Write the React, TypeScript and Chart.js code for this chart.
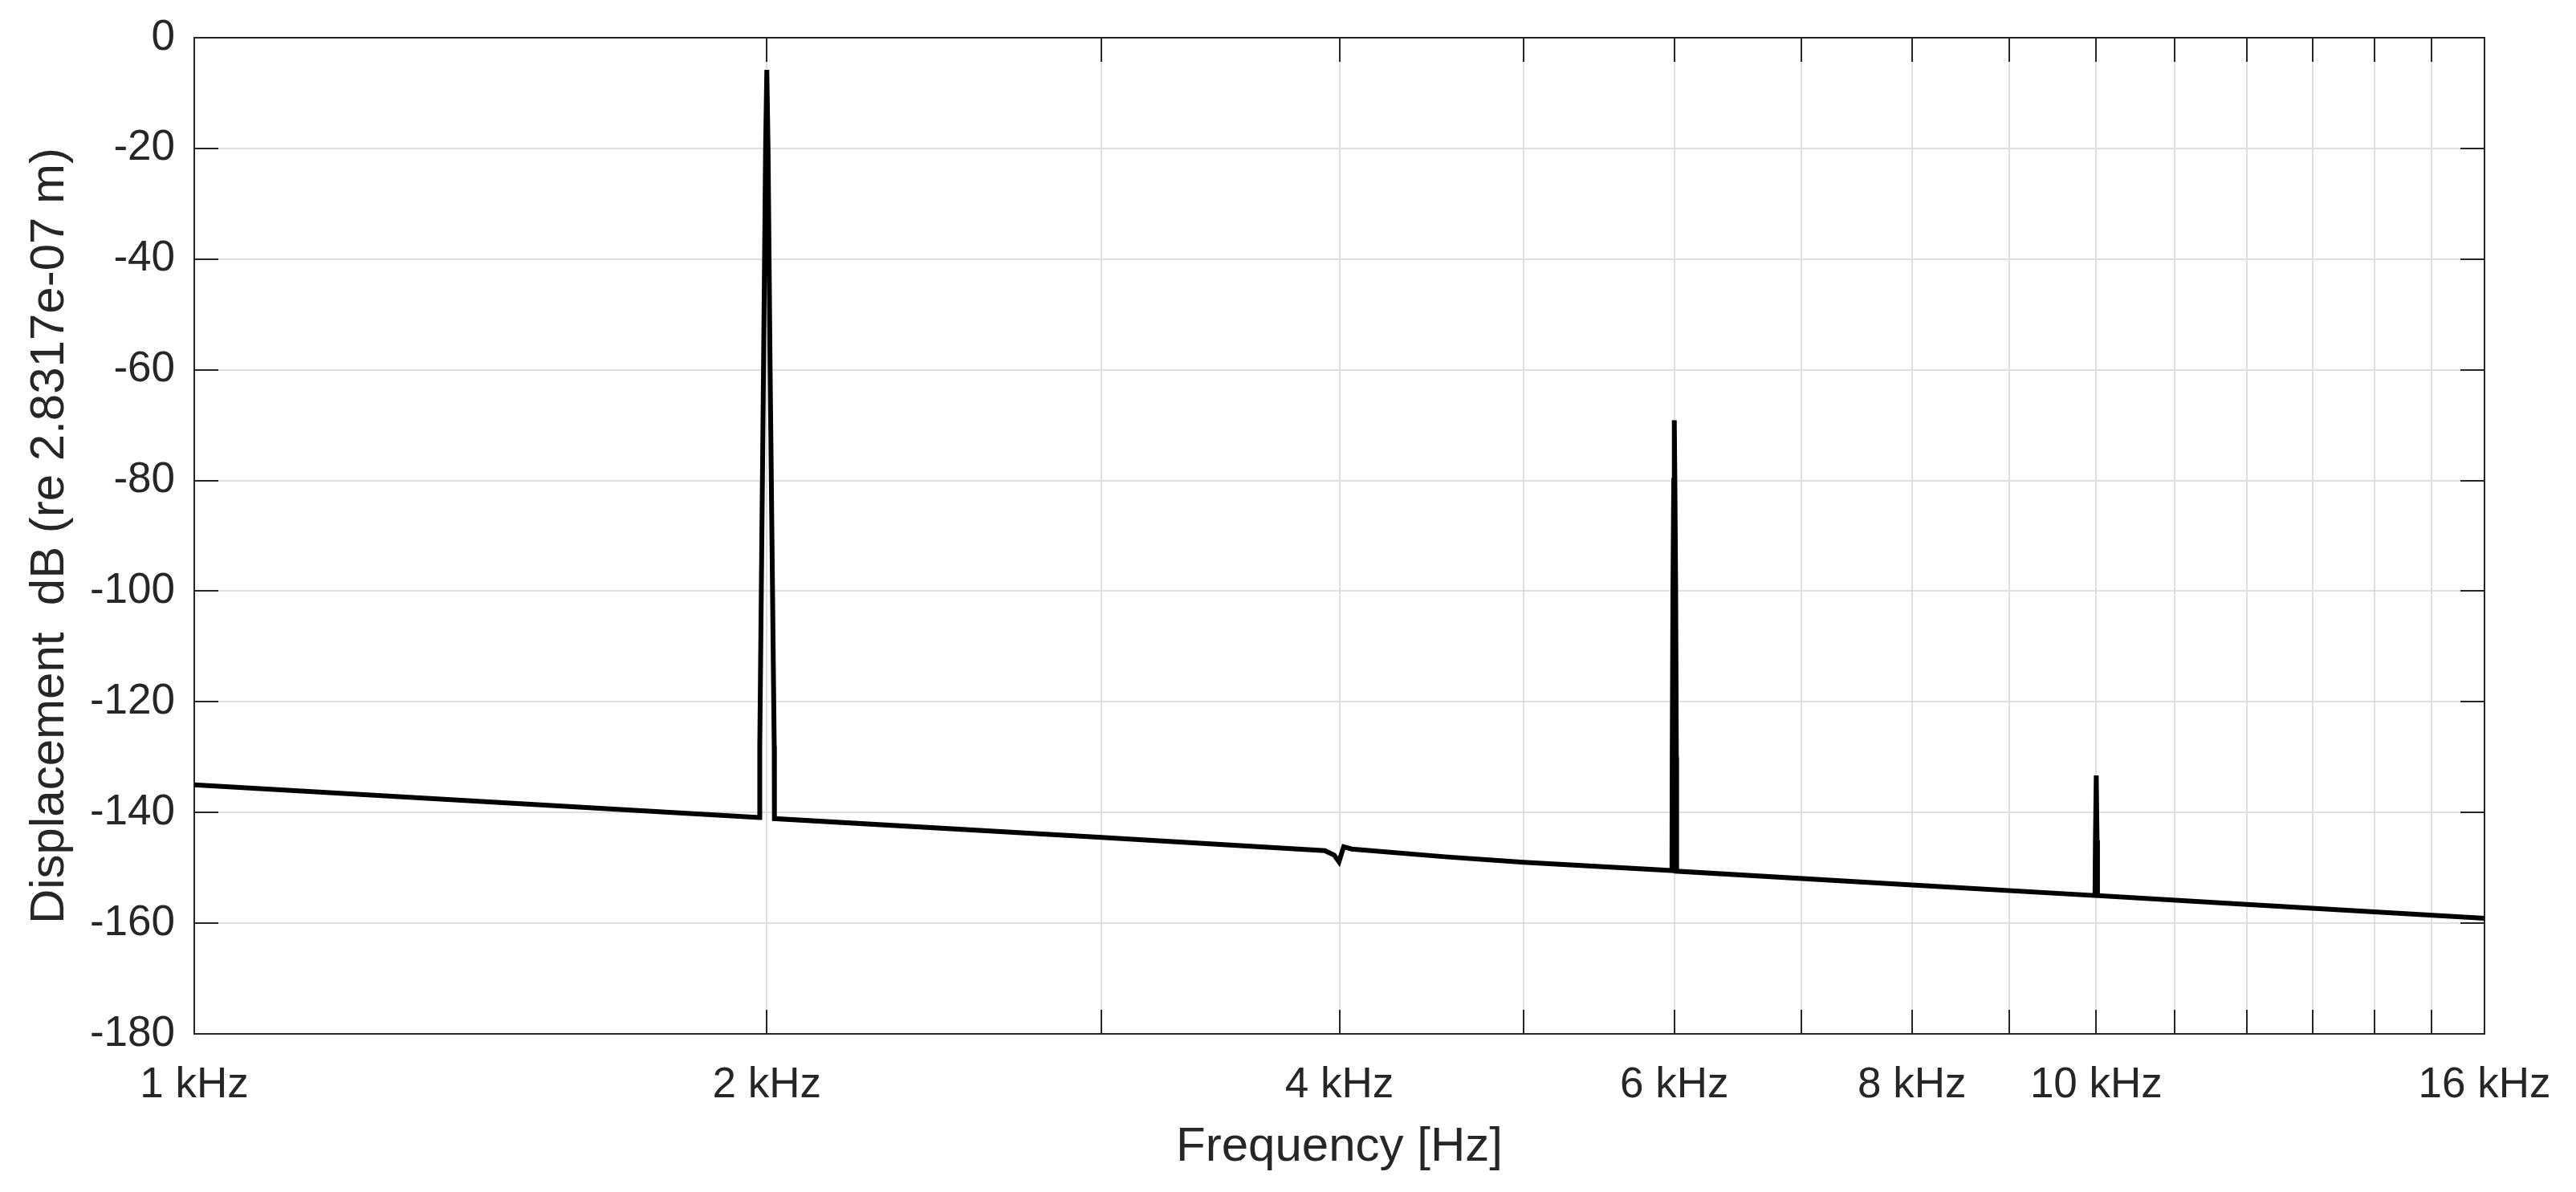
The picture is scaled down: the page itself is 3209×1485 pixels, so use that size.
import React, { useEffect, useRef } from "react";
import { Chart, registerables } from "chart.js";

Chart.register(...registerables);

// ---- Data ----
const freqHz: number[] = [
  1000, 1982.5, 1983, 1992, 1997, 2000, 2003, 2008, 2018, 2018.5,
  3000, 3930, 3975, 3998, 4021, 4060, 4545, 5000,
  5983, 5985, 5990, 5996, 6000, 6004, 6010, 6015, 6017,
  8000, 9985, 9990, 10000, 10010, 10015, 12000, 16000,
];
const displacementDb: number[] = [
  -135.0, -140.9, -128, -60, -20, -5.8, -20, -60, -128, -141.1,
  -144.5, -146.9, -147.7, -148.9, -146.2, -146.6, -148.0, -149.0,
  -150.5, -130, -100, -80, -69.1, -80, -100, -130, -150.6,
  -153.1, -155.0, -145, -133.3, -145, -155.0, -156.6, -159.1,
];

// grid / tick positions on the frequency axis
const xTickValues: number[] = [
  1000, 2000, 3000, 4000, 5000, 6000, 7000, 8000, 9000, 10000,
  11000, 12000, 13000, 14000, 15000, 16000,
];
const xLabelValues: number[] = [1000, 2000, 4000, 6000, 8000, 10000, 16000];
const xLabelTexts: string[] = ["1 kHz", "2 kHz", "4 kHz", "6 kHz", "8 kHz", "10 kHz", "16 kHz"];
const yTickValues: number[] = [0, -20, -40, -60, -80, -100, -120, -140, -160, -180];

const X_TITLE = "Frequency [Hz]";
const Y_TITLE = "Displacement  dB (re 2.8317e-07 m)";

const FONT = "'Liberation Sans', Arial, Helvetica, sans-serif";
const TEXT = "#262626";
const GRID = "#dfdfdf";

const W = 3209;
const H = 1485;
const PLOT_LEFT = 242;
const PLOT_RIGHT = 3095;
const PLOT_TOP = 47;
const PLOT_BOTTOM = 1288;

const boxTicksPlugin = {
  id: "boxTicks",
  beforeDatasetsDraw(chart: any) {
    const { ctx, chartArea, scales } = chart;
    const { left, right, top, bottom } = chartArea;
    const len = 30;
    ctx.save();
    ctx.strokeStyle = TEXT;
    ctx.lineWidth = 2;
    ctx.beginPath();
    for (const v of xTickValues) {
      const px = Math.round(scales.x.getPixelForValue(v));
      ctx.moveTo(px, bottom);
      ctx.lineTo(px, bottom - len);
      ctx.moveTo(px, top);
      ctx.lineTo(px, top + len);
    }
    for (const v of yTickValues) {
      const py = Math.round(scales.y.getPixelForValue(v));
      ctx.moveTo(left, py);
      ctx.lineTo(left + len, py);
      ctx.moveTo(right, py);
      ctx.lineTo(right - len, py);
    }
    ctx.stroke();
    ctx.strokeRect(left, top, right - left, bottom - top);
    ctx.restore();
  },
};

export default function App() {
  const ref = useRef<HTMLCanvasElement | null>(null);

  useEffect(() => {
    if (!ref.current) return;
    const points = freqHz.map((f, i) => ({ x: f, y: displacementDb[i] }));
    const chart = new Chart(ref.current, {
      type: "line",
      data: {
        datasets: [
          {
            data: points,
            borderColor: "#000000",
            borderWidth: 6,
            pointRadius: 0,
            tension: 0,
            fill: false,
          },
        ],
      },
      options: {
        animation: false,
        responsive: false,
        devicePixelRatio: 1,
        layout: {
          padding: { left: 0, top: PLOT_TOP, right: W - PLOT_RIGHT, bottom: 0 },
        },
        plugins: {
          legend: { display: false },
          tooltip: { enabled: false },
        },
        scales: {
          x: {
            type: "logarithmic",
            min: 1000,
            max: 16000,
            afterBuildTicks: (scale: any) => {
              scale.ticks = xTickValues.map((v) => ({ value: v }));
            },
            afterFit: (scale: any) => {
              scale.height = H - PLOT_BOTTOM;
              scale.paddingLeft = 0;
              scale.paddingRight = 0;
              scale.paddingTop = 0;
              scale.paddingBottom = 0;
            },
            grid: {
              color: GRID,
              lineWidth: 2,
              drawTicks: false,
            },
            border: { display: false },
            ticks: {
              autoSkip: false,
              maxRotation: 0,
              minRotation: 0,
              padding: 33,
              color: TEXT,
              font: { family: FONT, size: 53 },
              callback: (value: any) => {
                const idx = xLabelValues.indexOf(Number(value));
                return idx >= 0 ? xLabelTexts[idx] : "";
              },
            },
            title: {
              display: true,
              text: X_TITLE,
              color: TEXT,
              font: { family: FONT, size: 60 },
              padding: { top: 0, bottom: 20 },
            },
          },
          y: {
            type: "linear",
            min: -180,
            max: 0,
            afterBuildTicks: (scale: any) => {
              scale.ticks = yTickValues.map((v) => ({ value: v }));
            },
            afterFit: (scale: any) => {
              scale.width = PLOT_LEFT;
              scale.paddingLeft = 0;
              scale.paddingRight = 0;
              scale.paddingTop = 0;
              scale.paddingBottom = 0;
            },
            grid: {
              color: GRID,
              lineWidth: 2,
              drawTicks: false,
            },
            border: { display: false },
            ticks: {
              padding: 24,
              color: TEXT,
              font: { family: FONT, size: 53 },
              callback: (value: any) => String(value),
            },
            title: {
              display: true,
              text: Y_TITLE,
              color: TEXT,
              font: { family: FONT, size: 60 },
              padding: { top: 26, bottom: 0 },
            },
          },
        },
      },
      plugins: [boxTicksPlugin],
    });
    return () => chart.destroy();
  }, []);

  return (
    <div style={{ position: "absolute", left: 0, top: 0, width: W, height: H, background: "#ffffff" }}>
      <canvas ref={ref} width={W} height={H} style={{ display: "block" }} />
    </div>
  );
}
